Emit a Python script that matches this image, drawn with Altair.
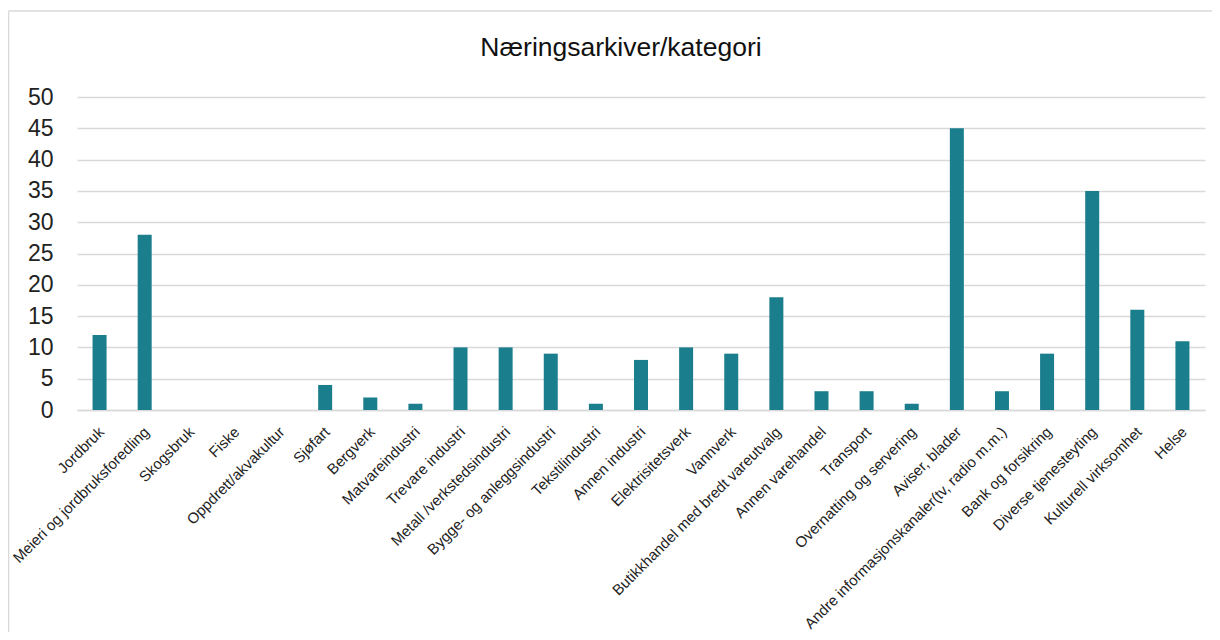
import altair as alt
import pandas as pd

categories = [
    "Jordbruk", "Meieri og jordbruksforedling", "Skogsbruk", "Fiske",
    "Oppdrett/akvakultur", "Sjøfart", "Bergverk", "Matvareindustri",
    "Trevare industri", "Metall /verkstedsindustri", "Bygge- og anleggsindustri",
    "Tekstilindustri", "Annen industri", "Elektrisitetsverk", "Vannverk",
    "Butikkhandel med bredt vareutvalg", "Annen varehandel", "Transport",
    "Overnatting og servering", "Aviser, blader",
    "Andre informasjonskanaler(tv, radio m.m.)", "Bank og forsikring",
    "Diverse tjenesteyting", "Kulturell virksomhet", "Helse",
]
values = [12, 28, 0, 0, 0, 4, 2, 1, 10, 10, 9, 1, 8, 10, 9, 18, 3, 3, 1, 45, 3, 9, 35, 16, 11]
y_ticks = [0, 5, 10, 15, 20, 25, 30, 35, 40, 45, 50]

df = pd.DataFrame({"kategori": categories, "antall": values})

FONT = "Liberation Sans"
GRID = "#d9d9d9"

bars = alt.Chart(df).mark_bar(size=14, color="#1b7e8c").encode(
    x=alt.X(
        "kategori:N",
        sort=categories,
        scale=alt.Scale(paddingInner=0, paddingOuter=0),
        axis=alt.Axis(
            title=None, labelAngle=-45, labelFontSize=15, labelFont=FONT,
            labelColor="#222222", ticks=False, domainColor=GRID, domainWidth=1.5,
            labelPadding=14, labelLimit=400, labelOffset=-3,
        ),
    ),
    y=alt.Y(
        "antall:Q",
        scale=alt.Scale(domain=[0, 50], nice=False),
        axis=alt.Axis(
            title=None, values=y_ticks, labelFontSize=23, labelFont=FONT,
            labelColor="#222222", ticks=False, domain=False, gridColor=GRID,
            gridWidth=1.5, labelPadding=24,
        ),
    ),
)

frame = pd.DataFrame({"a": [0]})
left_line = alt.Chart(frame).mark_rule(color=GRID, strokeWidth=1.5).encode(
    x=alt.value(-68.5), y=alt.value(-86), y2=alt.value(540)
)
top_line = alt.Chart(frame).mark_rule(color=GRID, strokeWidth=1.5).encode(
    x=alt.value(-68.5), x2=alt.value(1140), y=alt.value(-86)
)

chart = alt.layer(bars, left_line, top_line).properties(
    width=1128,
    height=313,
    autosize=alt.AutoSizeParams(type="none"),
    padding={"left": 69, "top": 89, "right": 7, "bottom": 222},
    title=alt.TitleParams(
        "Næringsarkiver/kategori", font=FONT, fontSize=26.5, fontWeight="normal",
        color="#111111", anchor="middle", frame="group", offset=-78,
        baseline="bottom", dx=-20,
    ),
).configure_view(stroke=None)

chart.save("out.html", embed_options={"renderer": "svg", "actions": False})
